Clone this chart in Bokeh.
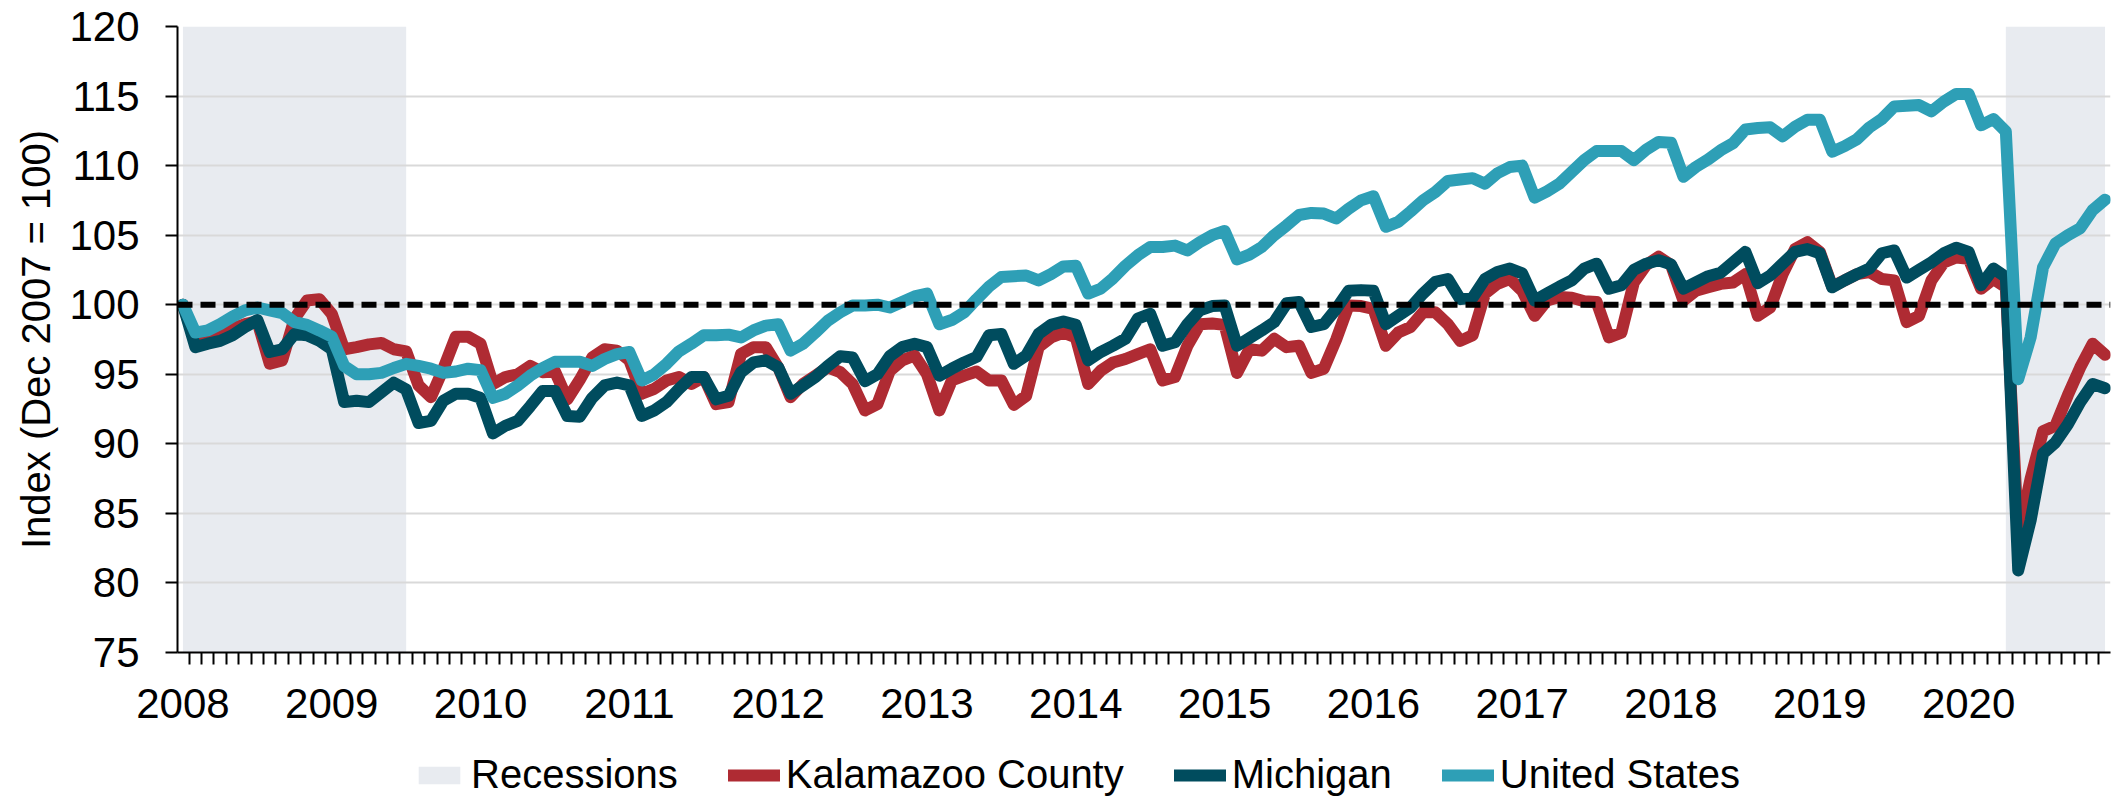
from bokeh.plotting import figure
from bokeh.layouts import column
from bokeh.models import Range1d, FixedTicker, Span, Legend, LegendItem
from bokeh.embed import file_html
from bokeh.resources import INLINE

# ---------------- data (monthly index, Dec 2007 = 100; index 0 = Dec 2007) ----------------
kalamazoo = [
    100.0, 97.3, 97.6, 97.9, 98.3, 98.6, 98.8, 95.75, 96.0, 99.0, 100.3, 100.4,
    99.35, 96.8, 96.95, 97.15, 97.25, 96.8, 96.65, 94.2, 93.35, 95.4, 97.7, 97.7,
    97.2, 94.3, 94.8, 95.0, 95.6, 95.15, 95.2, 93.2, 94.6, 96.2, 96.8, 96.7,
    96.0, 93.6, 93.95, 94.55, 94.8, 94.3, 94.8, 92.85, 93.0, 96.45, 96.95, 96.95,
    95.5, 93.35, 94.3, 94.9, 95.5, 95.15, 94.3, 92.4, 92.85, 95.25, 96.0, 96.35,
    95.0, 92.4, 94.55, 94.9, 95.2, 94.55, 94.55, 92.8, 93.45, 96.95, 97.65, 98.0,
    97.65, 94.3, 95.25, 95.85, 96.1, 96.45, 96.8, 94.55, 94.8, 97.05, 98.6, 98.65,
    98.55, 95.1, 96.8, 96.7, 97.55, 96.95, 97.05, 95.1, 95.4, 97.5, 99.95, 99.9,
    99.7, 97.05, 98.0, 98.4, 99.45, 99.45, 98.6, 97.4, 97.8, 100.8, 101.5, 101.85,
    101.0, 99.2, 100.3, 100.55, 100.5, 100.25, 100.2, 97.65, 98.0, 101.6, 102.85, 103.45,
    102.85, 100.3, 101.0, 101.25, 101.5, 101.6, 102.2, 99.2, 99.8, 102.2, 104.0, 104.5,
    103.8, 101.3, 101.75, 102.2, 102.35, 101.85, 101.75, 98.75, 99.2, 101.75, 103.05, 103.4,
    103.3, 101.15, 101.85, 101.25, 83.3, 87.5, 90.9, 91.3, 93.5, 95.5, 97.2, 96.4,
]
michigan = [
    100.0, 96.95, 97.2, 97.4, 97.8, 98.4, 98.9, 96.6, 96.8, 97.9, 97.8, 97.4,
    96.8, 93.0, 93.1, 93.0, 93.7, 94.4, 93.9, 91.5, 91.65, 93.1, 93.6, 93.6,
    93.3, 90.75, 91.3, 91.65, 92.7, 93.8, 93.8, 92.0, 91.95, 93.3, 94.2, 94.4,
    94.2, 92.0, 92.4, 93.0, 93.95, 94.8, 94.8, 93.2, 93.45, 95.15, 95.85, 96.0,
    95.5, 93.6, 94.2, 94.8, 95.6, 96.3, 96.2, 94.5, 95.0, 96.3, 96.95, 97.2,
    96.95, 94.9, 95.4, 95.85, 96.25, 97.8, 97.9, 95.75, 96.35, 97.9, 98.55, 98.8,
    98.55, 96.0, 96.6, 97.05, 97.55, 99.0, 99.35, 97.05, 97.3, 98.6, 99.6, 99.9,
    99.95, 97.05, 97.6, 98.15, 98.75, 100.1, 100.2, 98.4, 98.6, 99.7, 101.0, 101.05,
    101.0, 98.6, 99.2, 99.8, 100.8, 101.65, 101.85, 100.4, 100.5, 101.85, 102.35, 102.6,
    102.25, 100.3, 100.8, 101.3, 101.75, 102.6, 102.95, 101.15, 101.4, 102.5, 102.95, 103.2,
    102.9, 101.15, 101.6, 102.05, 102.3, 103.05, 103.8, 101.55, 102.1, 102.95, 103.8, 104.0,
    103.7, 101.25, 101.75, 102.2, 102.6, 103.7, 103.9, 101.95, 102.5, 103.05, 103.7, 104.1,
    103.8, 101.4, 102.6, 102.0, 80.9, 84.5, 89.3, 90.1, 91.4, 93.0, 94.3, 94.0,
]
united_states = [
    100.0, 98.0, 98.15, 98.6, 99.15, 99.6, 99.8, 99.6, 99.4, 98.75, 98.55, 98.15,
    97.7, 95.6, 95.0, 95.0, 95.1, 95.45, 95.75, 95.6, 95.4, 95.1, 95.2, 95.4,
    95.3, 93.3, 93.6, 94.2, 94.9, 95.45, 95.9, 95.9, 95.9, 95.6, 96.1, 96.45,
    96.6, 94.55, 95.0, 95.75, 96.65, 97.2, 97.8, 97.8, 97.85, 97.65, 98.15, 98.5,
    98.6, 96.7, 97.2, 98.0, 98.85, 99.45, 99.95, 99.95, 100.0, 99.8, 100.2, 100.6,
    100.8, 98.6, 98.9, 99.45, 100.4, 101.3, 102.0, 102.05, 102.1, 101.75, 102.2, 102.75,
    102.8, 100.8, 101.15, 101.9, 102.8, 103.55, 104.15, 104.15, 104.25, 103.9, 104.5, 105.0,
    105.3, 103.25, 103.6, 104.15, 105.0, 105.7, 106.45, 106.6, 106.55, 106.2, 106.9, 107.5,
    107.8, 105.6, 105.95, 106.7, 107.5, 108.1, 108.9, 109.0, 109.1, 108.7, 109.45, 109.9,
    110.0, 107.7, 108.15, 108.7, 109.55, 110.4, 111.05, 111.05, 111.05, 110.4, 111.15, 111.7,
    111.65, 109.2, 109.9, 110.45, 111.1, 111.6, 112.6, 112.7, 112.75, 112.1, 112.8, 113.3,
    113.3, 111.0, 111.4, 111.9, 112.75, 113.35, 114.25, 114.3, 114.35, 113.9, 114.6, 115.15,
    115.15, 112.9, 113.35, 112.45, 94.65, 97.65, 102.7, 104.4, 105.0, 105.5, 106.8, 107.55,
]
months = list(range(len(united_states)))

year_labels = [str(y) for y in range(2008, 2021)]
year_positions = [12 * k for k in range(len(year_labels))]

# recession periods (month indices)
rec_start = [0, 147]
rec_end = [18, 155]

y_ticks = [75, 80, 85, 90, 95, 100, 105, 110, 115, 120]
y_min, y_max = 75, 120
base_value = 100

series_names = ["Recessions", "Kalamazoo County", "Michigan", "United States"]

# ---------------- styling ----------------
FONT = "Liberation Sans"
C_KAL = "#af2b33"
C_MI = "#004c5e"
C_US = "#2e9fb6"
C_REC = "#e8ebf0"
LW = 12
W = 2113
BORDER_L, BORDER_R = 177, 3


def draw_series(fig):
    rq = fig.quad(left=rec_start, right=rec_end, bottom=y_min, top=y_max,
                  fill_color=C_REC, line_color=None, level="image")
    rk = fig.line(months, kalamazoo, line_color=C_KAL, line_width=LW, line_join="round", line_cap="round")
    rm = fig.line(months, michigan, line_color=C_MI, line_width=LW, line_join="round", line_cap="round")
    ru = fig.line(months, united_states, line_color=C_US, line_width=LW, line_join="round", line_cap="round")
    return [rq, rk, rm, ru]


p = figure(
    width=W, height=744,
    output_backend="svg", toolbar_location=None,
    x_range=Range1d(-0.44, 155.44), y_range=Range1d(y_min, y_max),
    min_border_left=BORDER_L, min_border_top=26, min_border_bottom=92, min_border_right=BORDER_R,
)
p.outline_line_color = None
p.background_fill_color = "white"
p.border_fill_color = "white"

draw_series(p)

# dashed 100 reference
p.add_layout(Span(location=base_value, dimension="width", line_color="black",
                  line_width=6, line_dash="15 8"))

# grid
p.xgrid.visible = False
p.ygrid.ticker = FixedTicker(ticks=y_ticks)
p.ygrid.grid_line_color = "#d9d9d9"
p.ygrid.grid_line_width = 2

# x axis
xa = p.xaxis[0]
xa.ticker = FixedTicker(ticks=year_positions, minor_ticks=[m - 0.5 for m in range(len(months) + 1)])
xa.major_label_overrides = {pos: lab for pos, lab in zip(year_positions, year_labels)}
xa.major_tick_line_color = None
xa.major_tick_out = 12
xa.major_tick_in = 0
xa.minor_tick_out = 12
xa.minor_tick_in = 0
xa.minor_tick_line_color = "black"
xa.minor_tick_line_width = 2
xa.axis_line_color = "black"
xa.axis_line_width = 2
xa.major_label_standoff = 24
xa.major_label_text_font = FONT
xa.major_label_text_font_size = "42px"
xa.major_label_text_color = "black"

# y axis
ya = p.yaxis[0]
ya.ticker = FixedTicker(ticks=y_ticks)
ya.major_tick_out = 12
ya.major_tick_in = 0
ya.major_tick_line_color = "black"
ya.major_tick_line_width = 2
ya.minor_tick_line_color = None
ya.axis_line_color = "black"
ya.axis_line_width = 2
ya.major_label_standoff = 26
ya.major_label_text_font = FONT
ya.major_label_text_font_size = "42px"
ya.major_label_text_color = "black"
ya.axis_label = "Index (Dec 2007 = 100)"
ya.axis_label_text_font = FONT
ya.axis_label_text_font_size = "40px"
ya.axis_label_text_font_style = "normal"
ya.axis_label_text_color = "black"
ya.axis_label_standoff = 8

# ---------------- legend strip (separate figure below the chart) ----------------
# its ranges are chosen so the series themselves fall outside (clipped); only the legend shows
LH = 53
lg = figure(width=W, height=LH, output_backend="svg", toolbar_location=None,
            x_axis_type=None, y_axis_type=None,
            x_range=Range1d(0, 1), y_range=Range1d(0, 1),
            min_border_left=BORDER_L, min_border_right=BORDER_R,
            min_border_top=0, min_border_bottom=0,
            outline_line_color=None)
lg.grid.visible = False
lg.background_fill_color = "white"
lg.border_fill_color = "white"

keys = draw_series(lg)

legend = Legend(
    items=[LegendItem(label=n, renderers=[r]) for n, r in zip(series_names, keys)],
    orientation="horizontal",
    location=(236, 0),
    padding=0, margin=0, spacing=50,
    label_standoff=6, glyph_width=52, glyph_height=22,
    border_line_color=None, background_fill_alpha=0,
    label_text_font=FONT, label_text_font_size="40px", label_text_color="black",
)
lg.add_layout(legend)

layout = column(p, lg, spacing=0)
open("out.html", "w").write(file_html(layout, INLINE))
